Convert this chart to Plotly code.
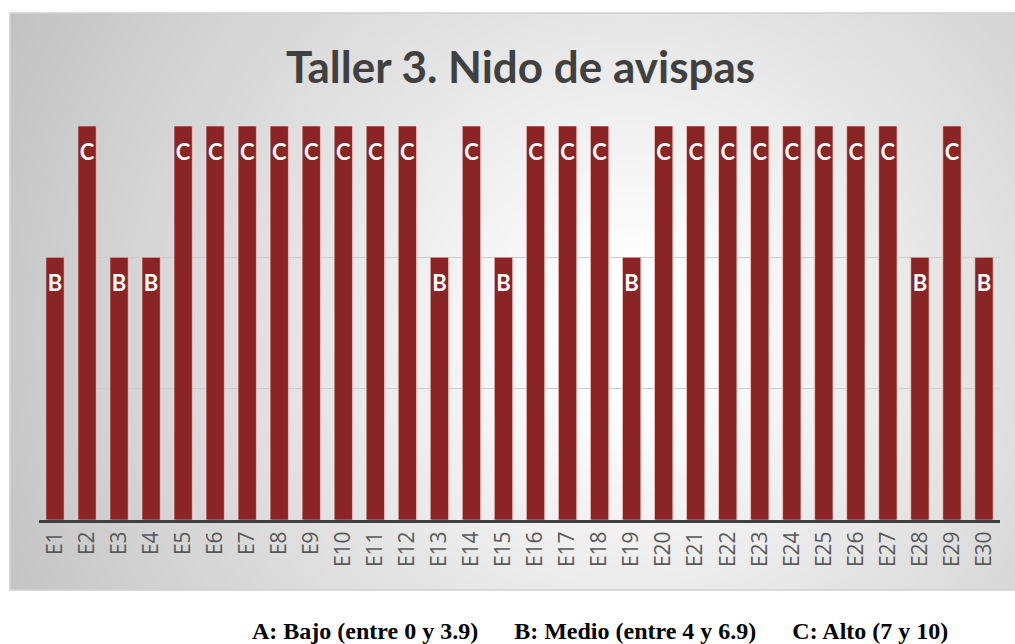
import plotly.graph_objects as go

categories = [f"E{i}" for i in range(1, 31)]
levels = ["B", "C", "B", "B", "C", "C", "C", "C", "C", "C",
          "C", "C", "B", "C", "B", "C", "C", "C", "B", "C",
          "C", "C", "C", "C", "C", "C", "C", "B", "C", "B"]
level_value = {"A": 1, "B": 2, "C": 3}
values = [level_value[l] for l in levels]
title_text = "Taller 3. Nido de avispas"
legend_text = "A: Bajo (entre 0 y 3.9)&nbsp;&nbsp;&nbsp;&nbsp;&nbsp;&nbsp;B: Medio (entre 4 y 6.9)&nbsp;&nbsp;&nbsp;&nbsp;&nbsp;&nbsp;C: Alto (7 y 10)"

W, H = 1015, 644
L, R, T, B = 39, 15, 126, 124
PW, PH = W - L - R, H - T - B

def px(x):
    return (x - L) / PW

def py(y):
    return (H - B - y) / PH

fig = go.Figure()
fig.add_trace(go.Bar(
    x=categories, y=values,
    marker=dict(color="#8B2424", line=dict(color="rgba(255,220,220,0.55)", width=1)),
    hoverinfo="x+y", showlegend=False,
))
fig.add_trace(go.Scatter(
    x=categories, y=[v - 0.215 for v in values], mode="text", text=levels,
    textfont=dict(family="Lato", size=22, color="white", weight="bold"),
    hoverinfo="skip", showlegend=False, cliponaxis=False,
))

shapes = []
# radial gradient background panel
cx, cy = 630, 330
rmax = 720
steps = 70
for i in range(steps):
    r = rmax * (1 - i / steps)
    t = r / rmax
    g = int(round(255 - (255 - 192) * min(1.0, max(0.0, (t - 0.08) / 0.92))))
    col = f"rgb({g},{g},{g})"
    shapes.append(dict(type="circle", xref="paper", yref="paper",
                       x0=px(cx - r), x1=px(cx + r), y0=py(cy + r), y1=py(cy - r),
                       fillcolor=col, line=dict(width=0), layer="below"))
# masks outside panel
for (x0, y0, x1, y1) in [(-800, -800, 10, 1600), (-800, -800, 1800, 13), (-800, 590, 1800, 1600)]:
    shapes.append(dict(type="rect", xref="paper", yref="paper",
                       x0=px(x0), x1=px(x1), y0=py(y1), y1=py(y0),
                       fillcolor="white", line=dict(width=0), layer="below"))
shapes.append(dict(type="rect", xref="paper", yref="paper",
                   x0=px(10), x1=px(1016), y0=py(590), y1=py(13),
                   fillcolor="rgba(0,0,0,0)", line=dict(color="#cfcfcf", width=1.5), layer="below"))

fig.update_layout(
    width=W, height=H,
    margin=dict(l=L, r=R, t=T, b=B, autoexpand=False),
    paper_bgcolor="white", plot_bgcolor="rgba(0,0,0,0)",
    bargap=0.43,
    shapes=shapes,
    annotations=[
        dict(text=title_text, xref="paper", yref="paper", x=px(520), y=py(66),
             xanchor="center", yanchor="middle", showarrow=False,
             font=dict(family="Lato", size=44, color="#404040", weight="bold")),
        dict(text=legend_text, xref="paper", yref="paper", x=px(600), y=py(631),
             xanchor="center", yanchor="middle", showarrow=False,
             font=dict(family="Liberation Serif", size=24, color="black", weight="bold")),
    ],
    xaxis=dict(tickangle=-90, showline=True, linecolor="#404040", linewidth=3,
               tickfont=dict(family="Open Sans", size=21, color="#595959"),
               ticks="", showgrid=False, range=[-0.5, 29.5], automargin=False),
    yaxis=dict(range=[0, 3], tickvals=[1, 2, 3], showticklabels=False,
               showgrid=True, gridcolor="#cdcdcd", gridwidth=1, zeroline=False,
               showline=False, ticks="", automargin=False),
)

fig.write_html("out.html", config={"displayModeBar": False},
               post_script="document.body.style.margin='0';")
